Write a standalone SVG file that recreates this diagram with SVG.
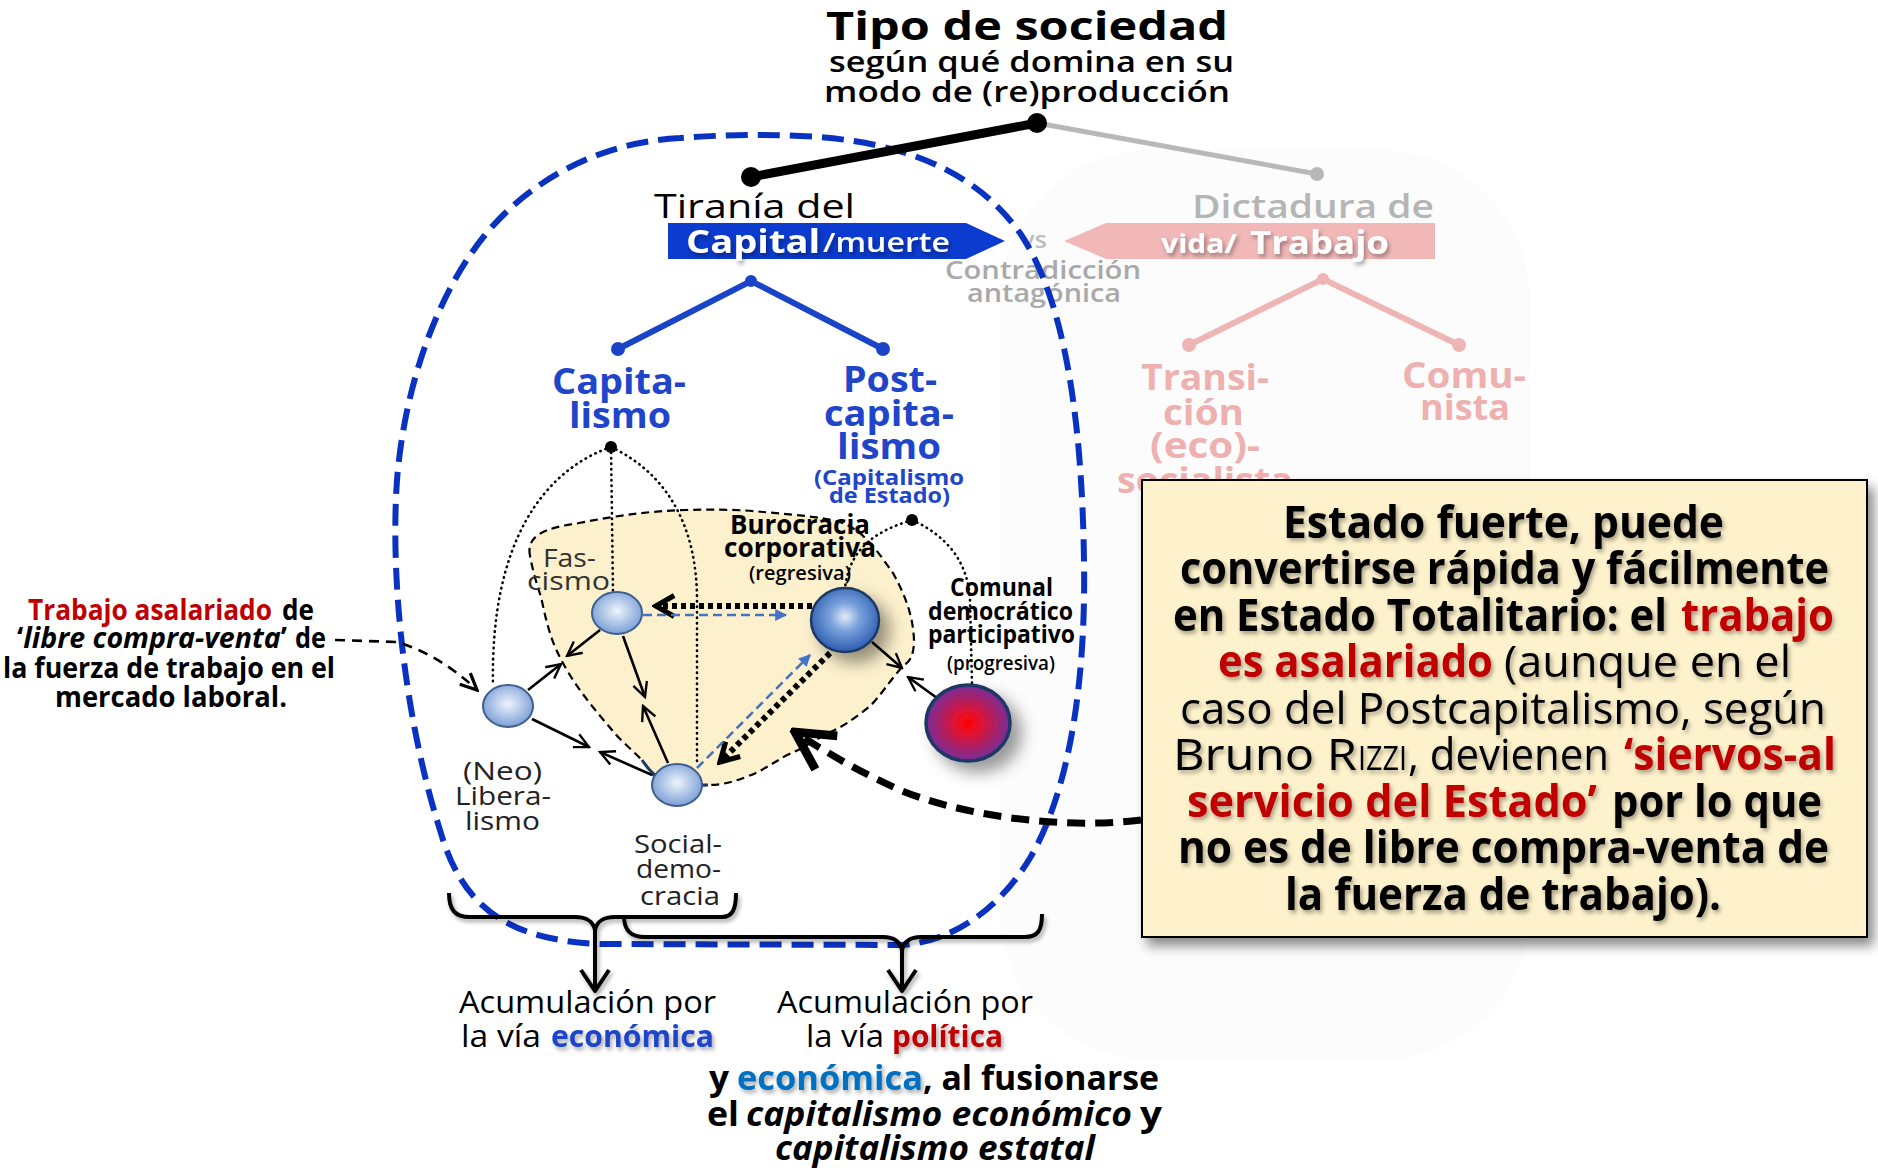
<svg xmlns="http://www.w3.org/2000/svg" width="1878" height="1173" viewBox="0 0 1878 1173">
<defs>
<style>
.os{font-family:"Open Sans","DejaVu Sans",sans-serif}
.cb{font-family:"Open Sans","Noto Sans","DejaVu Sans",sans-serif}
.b{font-weight:bold}
.blue{fill:#1f45c9}
.pink{fill:#efb0b0}
.red{fill:#c00000}
.dot{fill:none;stroke:#000;stroke-width:2.6;stroke-dasharray:0.5 5;stroke-linecap:round}
.ar{fill:none;stroke:#000;stroke-width:2.6}
.thk{fill:none;stroke:#000;stroke-width:6;stroke-dasharray:5 4}
.bd{fill:none;stroke:#4472c4;stroke-width:2.6;stroke-dasharray:9 5}
.brace{fill:none;stroke:#000;stroke-width:4;stroke-linejoin:round}
</style>
<filter id="sh" x="-10%" y="-10%" width="130%" height="140%"><feDropShadow dx="2" dy="3" stdDeviation="2" flood-color="#000" flood-opacity="0.35"/></filter>
<filter id="shb" x="-10%" y="-10%" width="130%" height="130%"><feDropShadow dx="6" dy="8" stdDeviation="6" flood-color="#000" flood-opacity="0.45"/></filter>
<filter id="shn" x="-50%" y="-50%" width="250%" height="250%"><feDropShadow dx="10" dy="10" stdDeviation="8" flood-color="#000" flood-opacity="0.4"/></filter>
<radialGradient id="gl" cx="50%" cy="45%" r="55%"><stop offset="0" stop-color="#eef4fc"/><stop offset="1" stop-color="#7a9fd6"/></radialGradient>
<radialGradient id="gd" cx="50%" cy="45%" r="55%"><stop offset="0" stop-color="#e2ecf9"/><stop offset="0.4" stop-color="#7aa2dc"/><stop offset="1" stop-color="#2c5db0"/></radialGradient>
<radialGradient id="gr" cx="50%" cy="50%" r="52%"><stop offset="0" stop-color="#ff0000"/><stop offset="0.25" stop-color="#e8102a"/><stop offset="1" stop-color="#7030a0"/></radialGradient>
<marker id="ao" viewBox="0 0 20 20" refX="18" refY="10" markerWidth="18" markerHeight="18" markerUnits="userSpaceOnUse" orient="auto"><path d="M2,2 L18,10 L2,18" fill="none" stroke="#000" stroke-width="2.6" stroke-dasharray="none"/></marker>
<marker id="at" viewBox="0 0 20 20" refX="17" refY="10" markerWidth="26" markerHeight="26" markerUnits="userSpaceOnUse" orient="auto"><path d="M3,2 L17,10 L3,18" fill="none" stroke="#000" stroke-width="4" stroke-dasharray="none"/></marker>
<marker id="ab" viewBox="0 0 10 10" refX="9" refY="5" markerWidth="14" markerHeight="12" markerUnits="userSpaceOnUse" orient="auto"><path d="M0,0 L10,5 L0,10 Z" fill="#4472c4"/></marker>
<marker id="abig" viewBox="0 0 40 40" refX="36" refY="20" markerWidth="50" markerHeight="50" markerUnits="userSpaceOnUse" orient="auto"><path d="M6,4 L36,20 L6,36" fill="none" stroke="#000" stroke-width="7" stroke-dasharray="none"/></marker>
<marker id="ad" viewBox="0 0 20 20" refX="18" refY="10" markerWidth="22" markerHeight="22" markerUnits="userSpaceOnUse" orient="auto"><path d="M3,3 L18,10 L3,17" fill="none" stroke="#000" stroke-width="3" stroke-dasharray="none"/></marker>
</defs>
<rect width="1878" height="1173" fill="#ffffff"/>
<rect x="1000" y="150" width="530" height="910" rx="150" fill="#fcfcfc"/>

<g id="title" class="os b">
<text x="826" y="40" font-size="40" textLength="402" lengthAdjust="spacingAndGlyphs">Tipo de sociedad</text>
<text x="829" y="72" font-size="29" font-weight="600" textLength="405" lengthAdjust="spacingAndGlyphs">según qué domina en su</text>
<text x="824" y="102" font-size="29" font-weight="600" textLength="406" lengthAdjust="spacingAndGlyphs">modo de (re)producción</text>
</g>

<g id="connectors">
<line x1="1037" y1="123" x2="1317" y2="174" stroke="#b8b8b8" stroke-width="5"/>
<circle cx="1317" cy="174" r="7" fill="#b8b8b8"/>
<path d="M1189,345 L1323,279 L1459,345" fill="none" stroke="#efb4b4" stroke-width="6"/>
<circle cx="1189" cy="345" r="7" fill="#efb4b4"/><circle cx="1459" cy="345" r="7" fill="#efb4b4"/><circle cx="1323" cy="279" r="6" fill="#efb4b4"/>
<path d="M618,349 L751,281 L883,349" fill="none" stroke="#1a44c8" stroke-width="6"/>
<circle cx="618" cy="349" r="7" fill="#1a44c8"/><circle cx="883" cy="349" r="7" fill="#1a44c8"/><circle cx="751" cy="281" r="6" fill="#1a44c8"/>
</g>

<g id="right-branch" class="os b">
<text x="1192" y="218" font-size="33" font-weight="600" fill="#b5b5b5" textLength="242" lengthAdjust="spacingAndGlyphs">Dictadura de</text>
<polygon points="1064,241 1106,223 1435,223 1435,259 1106,259" fill="#f2b8b8"/>
<g filter="url(#sh)" fill="#fff">
<text x="1161" y="253" font-size="27" textLength="76" lengthAdjust="spacingAndGlyphs">vida/</text>
<text x="1250" y="254" font-size="33" textLength="139" lengthAdjust="spacingAndGlyphs">Trabajo</text>
</g>
<text x="1141" y="390" font-size="35" class="pink" textLength="128" lengthAdjust="spacingAndGlyphs">Transi-</text>
<text x="1163" y="425" font-size="35" class="pink" textLength="81" lengthAdjust="spacingAndGlyphs">ción</text>
<text x="1150" y="458" font-size="35" class="pink" textLength="110" lengthAdjust="spacingAndGlyphs">(eco)-</text>
<text x="1117" y="493" font-size="35" class="pink" textLength="176" lengthAdjust="spacingAndGlyphs">socialista</text>
<text x="1402" y="388" font-size="35" class="pink" textLength="124" lengthAdjust="spacingAndGlyphs">Comu-</text>
<text x="1420" y="420" font-size="35" class="pink" textLength="90" lengthAdjust="spacingAndGlyphs">nista</text>
</g>

<g id="contradiccion" class="os" font-weight="600">
<text x="1021" y="248" font-size="24" fill="#bdbdbd" textLength="26" lengthAdjust="spacingAndGlyphs">vs</text>
<text x="945" y="279" font-size="25" fill="#a9a9a9" textLength="196" lengthAdjust="spacingAndGlyphs">Contradicción</text>
<text x="967" y="302" font-size="25" fill="#a9a9a9" textLength="154" lengthAdjust="spacingAndGlyphs">antagónica</text>
</g>

<path id="boundary" d="M680,138 C600,142 530,180 485,235 C440,290 405,380 397,480 C390,580 405,720 440,830 C460,900 500,940 600,944 L900,945 C960,942 1005,900 1030,858 C1070,790 1086,680 1084,560 C1082,420 1065,300 1020,233 C975,170 900,140 800,136 C760,134 720,135 680,138 Z" fill="none" stroke="#0a32c0" stroke-width="6" stroke-dasharray="22 10"/>

<g id="top-link">
<line x1="751" y1="177" x2="1037" y2="123" stroke="#000" stroke-width="9"/>
<circle cx="751" cy="177" r="10" fill="#000"/><circle cx="1037" cy="123" r="10" fill="#000"/>
</g>

<g id="left-branch" class="os">
<text x="654" y="218" font-size="32" font-weight="500" textLength="201" lengthAdjust="spacingAndGlyphs">Tiranía del</text>
<polygon points="668,223 966,223 1005,241 966,259 668,259" fill="#0b3bcf"/>
<g filter="url(#sh)" fill="#fff">
<text x="686" y="253" font-size="33" class="b" textLength="134" lengthAdjust="spacingAndGlyphs">Capital</text>
<text x="823" y="252" font-size="27" font-weight="600" textLength="127" lengthAdjust="spacingAndGlyphs">/muerte</text>
</g>
<g class="b blue">
<text x="552" y="394" font-size="35" textLength="134" lengthAdjust="spacingAndGlyphs">Capita-</text>
<text x="569" y="428" font-size="35" textLength="102" lengthAdjust="spacingAndGlyphs">lismo</text>
<text x="843" y="392" font-size="35" textLength="94" lengthAdjust="spacingAndGlyphs">Post-</text>
<text x="824" y="426" font-size="35" textLength="130" lengthAdjust="spacingAndGlyphs">capita-</text>
<text x="837" y="459" font-size="35" textLength="104" lengthAdjust="spacingAndGlyphs">lismo</text>
<text x="814" y="485" font-size="21" textLength="150" lengthAdjust="spacingAndGlyphs">(Capitalismo</text>
<text x="829" y="503" font-size="21" textLength="121" lengthAdjust="spacingAndGlyphs">de Estado)</text>
</g>
</g>

<path id="beige-zone" d="M530,556 C526,535 545,528 579,523 C620,515 650,511 686,510 C720,509 745,510 763,512 C800,515 830,518 845,524 C866,533 880,555 893,573 C905,595 913,615 914,640 C914,655 910,662 904,665 C890,680 880,697 869,707 C850,722 840,728 828,733 C810,743 800,750 787,755 C770,765 760,772 746,777 C730,783 720,785 708,785 C690,786 675,786 665,785 C655,780 650,770 642,760 C630,748 620,740 612,730 C600,716 585,698 575,683 C565,668 560,658 555,647 C548,630 545,615 541,597 C537,585 533,572 530,556 Z" fill="#fdf0cc" stroke="#000" stroke-width="2.2" stroke-dasharray="8 5"/>

<g id="dotted-links">
<path class="dot" d="M611,447 C545,470 490,540 493,686"/>
<path class="dot" d="M611,447 L613,592"/>
<path class="dot" d="M611,447 C670,475 697,530 697,600 L697,764"/>
<path class="dot" d="M912,520 C880,530 850,545 845,588"/>
<path class="dot" d="M912,520 C945,535 968,560 970,600 L972,685"/>
</g>
<circle cx="611" cy="447" r="6" fill="#000"/>
<circle cx="912" cy="520" r="6" fill="#000"/>

<g id="node-labels" class="os">
<text x="543" y="567" font-size="25" font-weight="500" fill="#333" textLength="53" lengthAdjust="spacingAndGlyphs">Fas-</text>
<text x="527" y="590" font-size="25" font-weight="500" fill="#333" textLength="83" lengthAdjust="spacingAndGlyphs">cismo</text>
<g class="b" fill="#000">
<text x="730" y="534" font-size="26" textLength="140" lengthAdjust="spacingAndGlyphs">Burocracia</text>
<text x="724" y="557" font-size="26" textLength="152" lengthAdjust="spacingAndGlyphs">corporativa</text>
<text x="749" y="580" font-size="19" font-weight="600" textLength="102" lengthAdjust="spacingAndGlyphs">(regresiva)</text>
<text x="950" y="596" font-size="25" textLength="103" lengthAdjust="spacingAndGlyphs">Comunal</text>
<text x="928" y="620" font-size="25" textLength="145" lengthAdjust="spacingAndGlyphs">democrático</text>
<text x="928" y="643" font-size="25" textLength="147" lengthAdjust="spacingAndGlyphs">participativo</text>
<text x="947" y="670" font-size="19" font-weight="600" textLength="108" lengthAdjust="spacingAndGlyphs">(progresiva)</text>
</g>
<g fill="#222" font-size="26" font-weight="500">
<text x="463" y="780" textLength="79" lengthAdjust="spacingAndGlyphs">(Neo)</text>
<text x="455" y="805" textLength="96" lengthAdjust="spacingAndGlyphs">Libera-</text>
<text x="465" y="830" textLength="75" lengthAdjust="spacingAndGlyphs">lismo</text>
<text x="634" y="853" textLength="88" lengthAdjust="spacingAndGlyphs">Social-</text>
<text x="636" y="878" textLength="85" lengthAdjust="spacingAndGlyphs">demo-</text>
<text x="640" y="905" textLength="80" lengthAdjust="spacingAndGlyphs">cracia</text>
</g>
</g>

<g id="arrows">
<path class="ar" d="M600,630 L567,656" marker-end="url(#ao)"/>
<path class="ar" d="M623,636 L645,697" marker-end="url(#ao)"/>
<path class="ar" d="M528,690 L561,664" marker-end="url(#ao)"/>
<path class="ar" d="M532,719 L589,747" marker-end="url(#ao)"/>
<path class="ar" d="M652,775 L600,752" marker-end="url(#ao)"/>
<path class="ar" d="M668,763 L643,706" marker-end="url(#ao)"/>
<path class="ar" d="M872,642 L902,668" marker-end="url(#ao)"/>
<path class="ar" d="M937,698 L908,677" marker-end="url(#ao)"/>
<path class="thk" d="M812,606 L656,606" marker-end="url(#at)"/>
<path class="bd" d="M643,615 L786,615" marker-end="url(#ab)"/>
<path class="thk" d="M830,653 L720,762" marker-end="url(#at)"/>
<path class="bd" d="M697,768 L810,655" marker-end="url(#ab)"/>
<path d="M642,760 C655,780 665,786 708,785" fill="none" stroke="#1f3864" stroke-width="3"/>
</g>

<g id="node-fascismo"><ellipse cx="617" cy="613" rx="25" ry="21" fill="url(#gl)" stroke="#3f5f8f" stroke-width="2"/></g>
<g id="node-neoliberalismo"><ellipse cx="508" cy="706" rx="25" ry="21" fill="url(#gl)" stroke="#3f5f8f" stroke-width="2"/></g>
<g id="node-socialdemocracia"><ellipse cx="677" cy="785" rx="25" ry="21" fill="url(#gl)" stroke="#3f5f8f" stroke-width="2"/></g>
<g id="node-burocracia"><ellipse cx="845" cy="620" rx="34" ry="32" fill="url(#gd)" stroke="#1f3864" stroke-width="2.5" filter="url(#shn)"/></g>
<g id="node-comunal"><ellipse cx="968" cy="723" rx="42" ry="38" fill="url(#gr)" stroke="#1f3864" stroke-width="3.5" filter="url(#shn)"/></g>

<g id="left-note" class="cb b" font-size="29">
<text x="28" y="620" class="red" textLength="244" lengthAdjust="spacingAndGlyphs">Trabajo asalariado</text>
<text x="282" y="620" textLength="32" lengthAdjust="spacingAndGlyphs">de</text>
<text x="17" y="648" textLength="270" lengthAdjust="spacingAndGlyphs"><tspan>‘</tspan><tspan font-style="italic">libre compra-venta</tspan><tspan>’</tspan></text>
<text x="295" y="648" textLength="31" lengthAdjust="spacingAndGlyphs">de</text>
<text x="3" y="678" textLength="332" lengthAdjust="spacingAndGlyphs">la fuerza de trabajo en el</text>
<text x="55" y="707" textLength="232" lengthAdjust="spacingAndGlyphs">mercado laboral.</text>
</g>
<path d="M335,640 L397,642 Q440,655 477,690" fill="none" stroke="#000" stroke-width="2.6" stroke-dasharray="10 7" marker-end="url(#ad)"/>

<g id="braces" filter="url(#sh)">
<path class="brace" d="M449,893 C449,910 455,917 470,917 L575,917 C588,917 593,922 595,930 C597,922 602,917 615,917 L722,917 C732,917 736,910 736,893"/>
<path class="brace" d="M595,930 L595,990 M581,970 L595,991 L609,970"/>
<path class="brace" d="M624,916 C624,932 632,937 645,937 L883,937 C895,937 900,942 902,950 C904,942 909,937 921,937 L1025,937 C1038,937 1042,930 1042,914"/>
<path class="brace" d="M902,950 L902,990 M888,970 L902,991 L916,970"/>
</g>

<g id="bottom-labels" class="os" font-size="31">
<text x="459" y="1013" textLength="257" lengthAdjust="spacingAndGlyphs">Acumulación por</text>
<text x="461" y="1047" textLength="80" lengthAdjust="spacingAndGlyphs">la vía</text>
<text x="551" y="1047" class="b blue" textLength="163" lengthAdjust="spacingAndGlyphs" filter="url(#sh)">económica</text>
<text x="777" y="1013" textLength="256" lengthAdjust="spacingAndGlyphs">Acumulación por</text>
<text x="806" y="1047" textLength="78" lengthAdjust="spacingAndGlyphs">la vía</text>
<text x="892" y="1047" class="b red" textLength="111" lengthAdjust="spacingAndGlyphs" filter="url(#sh)">política</text>
</g>
<g id="bottom-note" class="cb b" font-size="34">
<text x="709" y="1090" textLength="20" lengthAdjust="spacingAndGlyphs">y</text>
<text x="737" y="1090" fill="#0070c0" textLength="186" lengthAdjust="spacingAndGlyphs" filter="url(#sh)">económica</text>
<text x="923" y="1090" textLength="236" lengthAdjust="spacingAndGlyphs">, al fusionarse</text>
<text x="707" y="1126" textLength="32" lengthAdjust="spacingAndGlyphs">el</text>
<text x="746" y="1126" font-style="italic" textLength="386" lengthAdjust="spacingAndGlyphs">capitalismo económico</text>
<text x="1140" y="1126" textLength="22" lengthAdjust="spacingAndGlyphs">y</text>
<text x="775" y="1160" font-style="italic" textLength="320" lengthAdjust="spacingAndGlyphs">capitalismo estatal</text>
</g>

<g id="callout">
<rect x="1142" y="480" width="725" height="457" fill="#fef2cc" stroke="#000" stroke-width="2" filter="url(#shb)"/>
<g class="cb" font-size="44" filter="url(#sh)">
<text x="1283" y="538" class="b" textLength="441" lengthAdjust="spacingAndGlyphs">Estado fuerte, puede</text>
<text x="1180" y="584" class="b" textLength="649" lengthAdjust="spacingAndGlyphs">convertirse rápida y fácilmente</text>
<text x="1173" y="631" class="b" textLength="494" lengthAdjust="spacingAndGlyphs">en Estado Totalitario: el</text>
<text x="1681" y="631" class="b red" textLength="153" lengthAdjust="spacingAndGlyphs">trabajo</text>
<text x="1218" y="677" class="b red" textLength="275" lengthAdjust="spacingAndGlyphs">es asalariado</text>
<text x="1504" y="677" textLength="287" lengthAdjust="spacingAndGlyphs">(aunque en el</text>
<text x="1180" y="724" textLength="646" lengthAdjust="spacingAndGlyphs">caso del Postcapitalismo, según</text>
<text x="1173" y="770" textLength="184" lengthAdjust="spacingAndGlyphs">Bruno R</text>
<text x="1358" y="770" font-size="33" textLength="49" lengthAdjust="spacingAndGlyphs">IZZI</text>
<text x="1408" y="770" textLength="201" lengthAdjust="spacingAndGlyphs">, devienen</text>
<text x="1624" y="770" class="b red" textLength="212" lengthAdjust="spacingAndGlyphs">‘siervos-al</text>
<text x="1187" y="817" class="b red" textLength="410" lengthAdjust="spacingAndGlyphs">servicio del Estado’</text>
<text x="1612" y="817" class="b" textLength="210" lengthAdjust="spacingAndGlyphs">por lo que</text>
<text x="1178" y="863" class="b" textLength="651" lengthAdjust="spacingAndGlyphs">no es de libre compra-venta de</text>
<text x="1285" y="910" class="b" textLength="436" lengthAdjust="spacingAndGlyphs">la fuerza de trabajo).</text>
</g>
</g>

<path id="callout-arrow" d="M1141,820 C1060,830 960,815 900,790 C860,772 830,755 795,732" fill="none" stroke="#000" stroke-width="7" stroke-dasharray="18 10" marker-end="url(#abig)"/>
</svg>
